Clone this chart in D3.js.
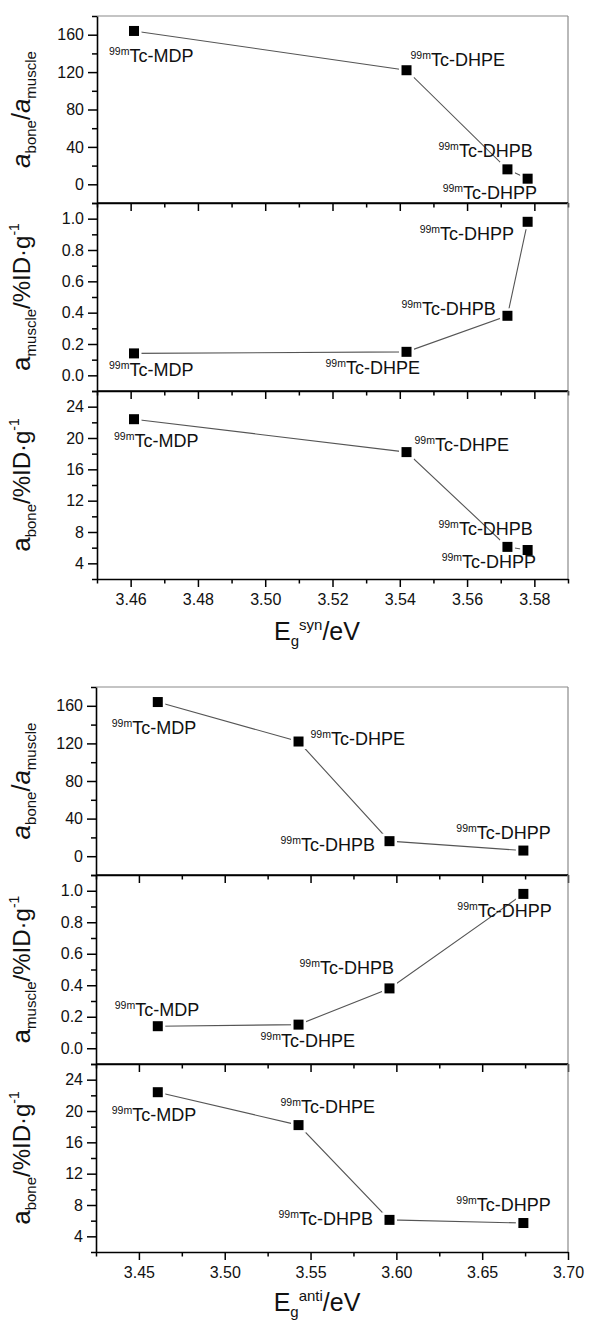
<!DOCTYPE html>
<html>
<head>
<meta charset="utf-8">
<script src="https://cdn.jsdelivr.net/npm/d3@7/dist/d3.min.js"></script>
<style>
  html, body { margin: 0; padding: 0; background: #fff; }
  svg { display: block; font-family: "Liberation Sans", Arial, sans-serif; }
</style>
</head>
<body>
<script>
// Data
const compounds = ["MDP", "DHPE", "DHPB", "DHPP"];
const egSyn = [3.461, 3.542, 3.572, 3.578];
const egAnti = [3.461, 3.543, 3.596, 3.674];
const ratio = [164, 122, 16, 6];        // a_bone / a_muscle
const aMuscle = [0.14, 0.15, 0.38, 0.98]; // %ID/g
const aBone = [22.4, 18.2, 6.1, 5.7];     // %ID/g

const synTicks = [3.46, 3.48, 3.50, 3.52, 3.54, 3.56, 3.58];
const antiTicks = [3.45, 3.50, 3.55, 3.60, 3.65, 3.70];
const ratioTicks = [0, 40, 80, 120, 160];
const muscleTicks = [0.0, 0.2, 0.4, 0.6, 0.8, 1.0];
const boneTicks = [4, 8, 12, 16, 20, 24];

// label offsets (px) from each point: [dx, dy] to the start of "99m" / baseline
const synOffsets = [
  [[-25, 31], [4, -4], [-69, -12], [-85, 20]],
  [[-25, 23], [-81, 22], [-106, -1], [-108, 18]],
  [[-20, 28], [8, -1], [-69, -12], [-86, 18]]
];
const antiOffsets = [
  [[-46, 32], [12, 3], [-109, 10], [-67, -12]],
  [[-43, -10], [-38, 22], [-90, -14], [-66, 23]],
  [[-46, 29], [-18, -12], [-111, 5], [-67, -12]]
];

const W = 592, H = 1323;
const svg = d3.select("body").append("svg")
  .attr("width", W)
  .attr("height", H);

// write a text made of parts with sub/superscripts
function rich(sel, parts) {
  let prev = 0;
  parts.forEach(p => {
    const shift = p.shift || 0;
    sel.append("tspan")
      .attr("dy", shift - prev)
      .style("font-size", p.size + "px")
      .style("font-style", p.italic ? "italic" : "normal")
      .text(p.t);
    prev = shift;
  });
}

const panels = [
  {
    values: ratio, domain: [-20, 180], ticks: ratioTicks, minor: 20, fmt: d3.format("d"),
    title: [{t: "a", size: 26, italic: true}, {t: "bone", size: 15, shift: 6},
            {t: "/", size: 25}, {t: "a", size: 26, italic: true}, {t: "muscle", size: 15, shift: 6}]
  },
  {
    values: aMuscle, domain: [-0.1, 1.1], ticks: muscleTicks, minor: 0.1, fmt: d3.format(".1f"),
    title: [{t: "a", size: 26}, {t: "muscle", size: 15, shift: 6},
            {t: "/%ID·g", size: 24}, {t: "-1", size: 14, shift: -11}]
  },
  {
    values: aBone, domain: [2, 26], ticks: boneTicks, minor: 2, fmt: d3.format("d"),
    title: [{t: "a", size: 26}, {t: "bone", size: 15, shift: 6},
            {t: "/%ID·g", size: 24}, {t: "-1", size: 14, shift: -11}]
  }
];

function drawFigure(cfg) {
  const g = svg.append("g");
  const x = d3.scaleLinear().domain(cfg.xDomain).range([cfg.left, cfg.right]);
  const xMinor = d3.range(cfg.xDomain[0], cfg.xDomain[1] + 1e-9, cfg.xMinorStep)
    .filter(v => !cfg.xTicks.some(t => Math.abs(t - v) < 1e-6));

  panels.forEach((p, i) => {
    const top = cfg.tops[i];
    const bottom = i < 2 ? cfg.tops[i + 1] : cfg.bottom;
    const y = d3.scaleLinear().domain(p.domain).range([bottom, top]);
    const pg = g.append("g");

    // gray top and right border
    pg.append("line")
      .attr("x1", cfg.left).attr("x2", cfg.right)
      .attr("y1", top).attr("y2", top)
      .attr("stroke", i === 0 ? "#8a8a8a" : "#000").attr("stroke-width", i === 0 ? 1.2 : 1.5);
    pg.append("line")
      .attr("x1", cfg.right).attr("x2", cfg.right)
      .attr("y1", top).attr("y2", bottom)
      .attr("stroke", "#8a8a8a").attr("stroke-width", 1.2);

    // y minor ticks
    const yMinor = d3.range(p.domain[0], p.domain[1] + 1e-9, p.minor)
      .filter(v => !p.ticks.some(t => Math.abs(t - v) < 1e-6));
    pg.append("g")
      .attr("transform", `translate(${cfg.left},0)`)
      .call(d3.axisLeft(y).tickValues(yMinor).tickSize(5).tickFormat(""))
      .call(a => a.select(".domain").remove())
      .selectAll("line").attr("stroke-width", 1.5);

    // y major ticks
    pg.append("g")
      .attr("transform", `translate(${cfg.left},0)`)
      .call(d3.axisLeft(y).tickValues(p.ticks).tickSize(9).tickSizeOuter(0)
        .tickPadding(4).tickFormat(p.fmt))
      .call(a => a.select(".domain").attr("stroke-width", 1.6))
      .call(a => a.selectAll("line").attr("stroke-width", 1.5))
      .call(a => a.selectAll("text").style("font-size", "16px").attr("fill", "#111"));

    // x ticks on bottom edge
    pg.append("g")
      .attr("transform", `translate(0,${bottom})`)
      .call(d3.axisBottom(x).tickValues(xMinor).tickSize(4.5).tickFormat(""))
      .call(a => a.select(".domain").remove())
      .selectAll("line").attr("stroke-width", 1.5);
    pg.append("g")
      .attr("transform", `translate(0,${bottom})`)
      .call(d3.axisBottom(x).tickValues(cfg.xTicks).tickSize(8).tickSizeOuter(0)
        .tickPadding(7).tickFormat(i === 2 ? d3.format(".2f") : ""))
      .call(a => a.select(".domain").attr("stroke-width", 1.6))
      .call(a => a.selectAll("line").attr("stroke-width", 1.5))
      .call(a => a.selectAll("text").style("font-size", "16px").attr("fill", "#111"));

    // y title
    const ty = pg.append("text")
      .attr("transform", `translate(30,${(top + bottom) / 2}) rotate(-90)`)
      .attr("text-anchor", "middle")
      .attr("fill", "#111");
    rich(ty, p.title);

    // data line
    const pts = compounds.map((c, k) => [cfg.xs[k], p.values[k]]);
    pg.append("path")
      .datum(pts)
      .attr("fill", "none")
      .attr("stroke", "#555")
      .attr("stroke-width", 1.1)
      .attr("d", d3.line().x(d => x(d[0])).y(d => y(d[1])));

    // markers with a white gap around them
    pg.selectAll("rect.gap")
      .data(pts).enter().append("rect")
      .attr("class", "gap")
      .attr("x", d => x(d[0]) - 7.5).attr("y", d => y(d[1]) - 7.5)
      .attr("width", 15).attr("height", 15)
      .attr("fill", "#fff");
    pg.selectAll("rect.mark")
      .data(pts).enter().append("rect")
      .attr("class", "mark")
      .attr("x", d => x(d[0]) - 5).attr("y", d => y(d[1]) - 5)
      .attr("width", 10).attr("height", 10)
      .attr("fill", "#000");

    // point labels
    compounds.forEach((c, k) => {
      const off = cfg.offsets[i][k];
      const t = pg.append("text")
        .attr("x", x(pts[k][0]) + off[0])
        .attr("y", y(pts[k][1]) + off[1])
        .attr("fill", "#111");
      rich(t, [{t: "99m", size: 10.5, shift: -7}, {t: "Tc-" + c, size: 18}]);
    });
  });

  // x title
  const tx = g.append("text")
    .attr("x", cfg.titleX)
    .attr("y", cfg.titleY)
    .attr("text-anchor", "middle")
    .attr("fill", "#111");
  rich(tx, [{t: "E", size: 25}, {t: "g", size: 15, shift: 6},
            {t: cfg.sup, size: 15, shift: -10}, {t: "/eV", size: 25}]);
}

drawFigure({
  xs: egSyn, xDomain: [3.45, 3.59], xTicks: synTicks, xMinorStep: 0.01,
  left: 97, right: 568, tops: [16, 203, 391], bottom: 579,
  offsets: synOffsets, sup: "syn", titleX: 317, titleY: 640
});

drawFigure({
  xs: egAnti, xDomain: [3.425, 3.70], xTicks: antiTicks, xMinorStep: 0.025,
  left: 96, right: 568, tops: [687, 875, 1064], bottom: 1252,
  offsets: antiOffsets, sup: "anti", titleX: 317, titleY: 1311
});
</script>
</body>
</html>
